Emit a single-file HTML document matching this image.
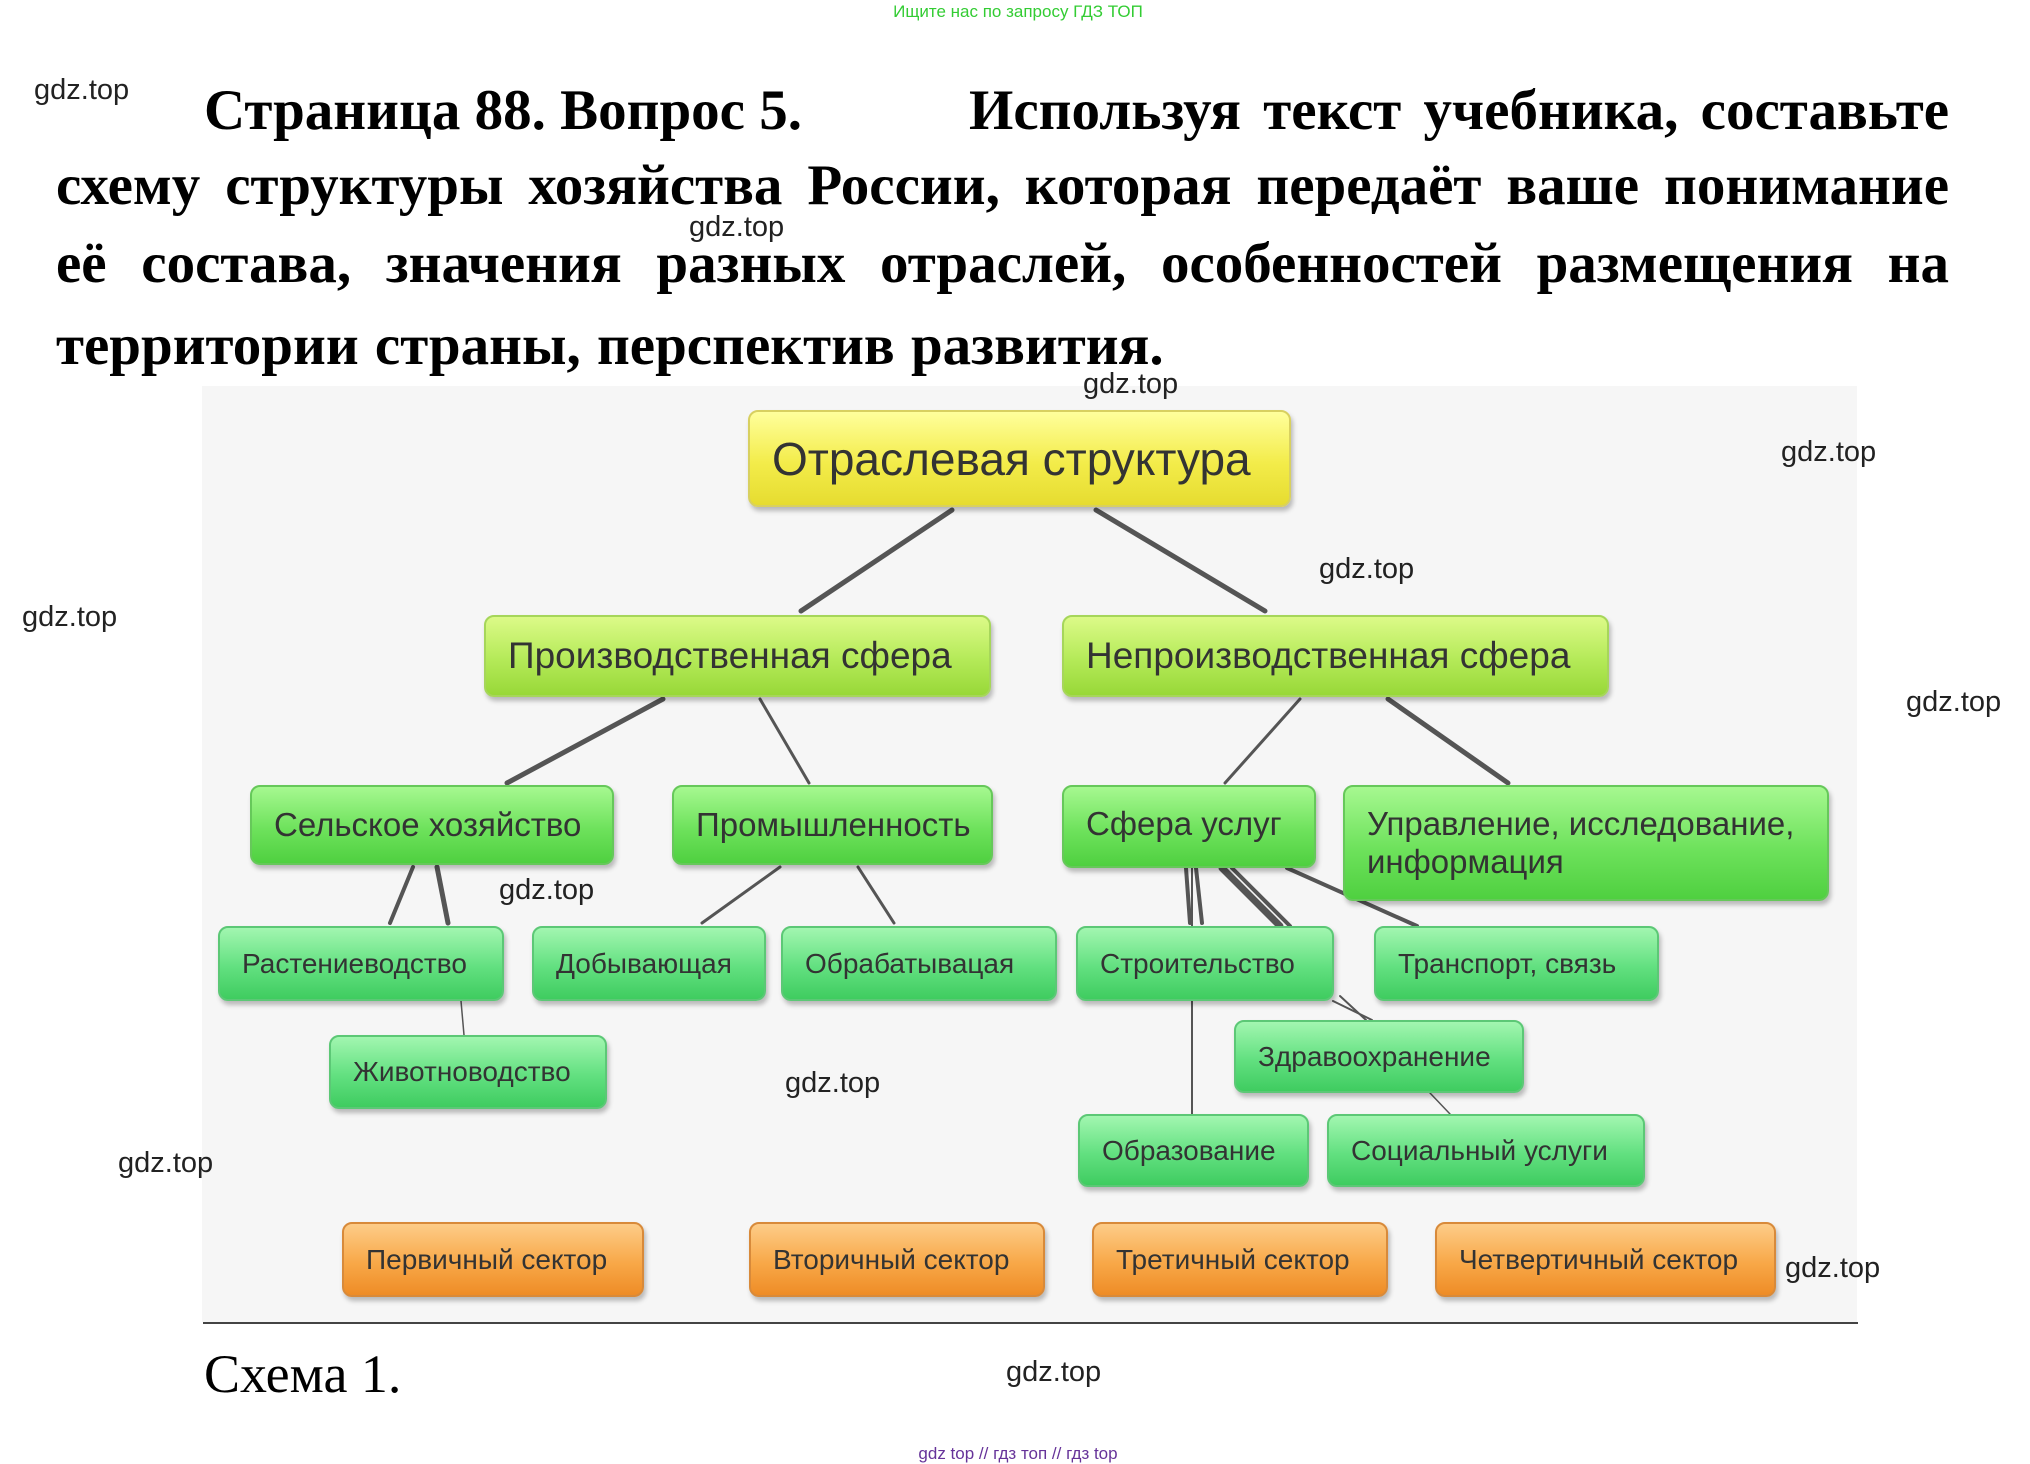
<!DOCTYPE html>
<html><head><meta charset="utf-8"><style>
body{margin:0;width:2030px;height:1463px;background:#fff;position:relative;overflow:hidden;font-family:"Liberation Sans",sans-serif}
.a{position:absolute;white-space:nowrap}
.w{position:absolute;font-size:29px;color:#222;line-height:1}
.t{position:absolute;left:56px;width:1893px;font-family:"Liberation Serif",serif;font-weight:bold;font-size:57px;text-align:justify;text-align-last:justify;line-height:1;white-space:nowrap}
.n{position:absolute;box-sizing:border-box;border-radius:10px;color:#333;padding-left:22px;display:flex;align-items:center;box-shadow:2px 4px 5px rgba(0,0,0,.25);white-space:nowrap}
.y{background:linear-gradient(#ffff9c,#f3ec4a 55%,#e6dc30);border:2px solid #d8d060}
.l{background:linear-gradient(#dcfa88,#b4ea58 55%,#98d838);border:2px solid #a6d65a;font-size:37px}
.g{background:linear-gradient(#a6f890,#6ee25c 55%,#4fd040);border:2px solid #66c85a;font-size:33px}
.m{background:linear-gradient(#a2f6b0,#62e080 55%,#3fcc60);border:2px solid #5cc876;font-size:28px}
.o{background:linear-gradient(#fdcc88,#f8a848 55%,#ee8c26);border:2px solid #d88a3a;font-size:28px}
</style></head><body>
<div class="a" style="left:0;width:2036px;text-align:center;top:2px;font-size:17px;color:#33cc33">Ищите нас по запросу ГДЗ ТОП</div>
<div class="a" style="left:204px;top:78px;font-family:'Liberation Serif',serif;font-weight:bold;font-size:57px;width:1745px;display:flex;justify-content:space-between"><span>Страница 88. Вопрос 5.</span><span style="margin-left:auto;word-spacing:8px">Используя текст учебника, составьте</span></div>
<div class="t" style="top:157px">схему структуры хозяйства России, которая передаёт ваше понимание</div>
<div class="t" style="top:235px">её состава, значения разных отраслей, особенностей размещения на</div>
<div class="a" style="left:56px;top:313px;font-family:'Liberation Serif',serif;font-weight:bold;font-size:57px;word-spacing:2px">территории страны, перспектив развития.</div>

<div class="a" style="left:202px;top:386px;width:1655px;height:936px;background:#f6f6f6"></div>
<div class="a" style="left:203px;top:1322px;width:1655px;height:2px;background:#444"></div>
<div class="a" style="left:204px;top:1343px;font-family:'Liberation Serif',serif;font-size:54px">Схема 1.</div>

<svg class="a" style="left:0;top:0" width="2030" height="1463">
<g stroke="#555" stroke-width="5" stroke-linecap="round">
<line x1="952" y1="510" x2="801" y2="611"/>
<line x1="1096" y1="510" x2="1265" y2="611"/>
<line x1="663" y1="699" x2="507" y2="783"/>
<line x1="760" y1="699" x2="809" y2="783" stroke-width="3"/>
<line x1="1300" y1="699" x2="1225" y2="783" stroke-width="3"/>
<line x1="1388" y1="699" x2="1508" y2="783"/>
<line x1="413" y1="867" x2="390" y2="923" stroke-width="4"/>
<line x1="437" y1="867" x2="448" y2="923"/>
<line x1="461" y1="1001" x2="464" y2="1035" stroke-width="1.5"/>
<line x1="780" y1="867" x2="702" y2="923" stroke-width="3"/>
<line x1="858" y1="867" x2="894" y2="923" stroke-width="3"/>
<line x1="1186" y1="868" x2="1190" y2="923" stroke-width="4"/>
<line x1="1196" y1="868" x2="1202" y2="923" stroke-width="4"/>
<line x1="1222" y1="868" x2="1280" y2="926" stroke-width="7"/>
<line x1="1232" y1="868" x2="1290" y2="926" stroke-width="4"/>
<line x1="1287" y1="868" x2="1417" y2="926" stroke-width="4"/>
<line x1="1192" y1="868" x2="1192" y2="1114" stroke-width="2"/>
<line x1="1333" y1="1001" x2="1372" y2="1020" stroke-width="2"/>
<line x1="1340" y1="996" x2="1366" y2="1020" stroke-width="2"/>
<line x1="1430" y1="1093" x2="1450" y2="1114" stroke-width="1.5"/>
</g></svg>

<div class="n y" style="left:748px;top:410px;width:543px;height:97px;font-size:46px">Отраслевая структура</div>
<div class="n l" style="left:484px;top:615px;width:507px;height:82px">Производственная сфера</div>
<div class="n l" style="left:1062px;top:615px;width:547px;height:82px">Непроизводственная сфера</div>
<div class="n g" style="left:250px;top:785px;width:364px;height:80px">Сельское хозяйство</div>
<div class="n g" style="left:672px;top:785px;width:321px;height:80px">Промышленность</div>
<div class="n g" style="left:1062px;top:785px;width:254px;height:83px;align-items:flex-start;padding-top:18px">Сфера услуг</div>
<div class="n g" style="left:1343px;top:785px;width:486px;height:116px;align-items:flex-start;padding-top:18px;line-height:38px;white-space:normal">Управление, исследование, информация</div>
<div class="n m" style="left:218px;top:926px;width:286px;height:75px">Растениеводство</div>
<div class="n m" style="left:532px;top:926px;width:234px;height:75px">Добывающая</div>
<div class="n m" style="left:781px;top:926px;width:276px;height:75px">Обрабатывацая</div>
<div class="n m" style="left:1076px;top:926px;width:258px;height:75px">Строительство</div>
<div class="n m" style="left:1374px;top:926px;width:285px;height:75px">Транспорт, связь</div>
<div class="n m" style="left:329px;top:1035px;width:278px;height:74px">Животноводство</div>
<div class="n m" style="left:1234px;top:1020px;width:290px;height:73px">Здравоохранение</div>
<div class="n m" style="left:1078px;top:1114px;width:231px;height:73px">Образование</div>
<div class="n m" style="left:1327px;top:1114px;width:318px;height:73px">Социальный услуги</div>
<div class="n o" style="left:342px;top:1222px;width:302px;height:75px">Первичный сектор</div>
<div class="n o" style="left:749px;top:1222px;width:296px;height:75px">Вторичный сектор</div>
<div class="n o" style="left:1092px;top:1222px;width:296px;height:75px">Третичный сектор</div>
<div class="n o" style="left:1435px;top:1222px;width:341px;height:75px">Четвертичный сектор</div>

<div class="w" style="left:34px;top:76px">gdz.top</div>
<div class="w" style="left:689px;top:213px">gdz.top</div>
<div class="w" style="left:1083px;top:370px">gdz.top</div>
<div class="w" style="left:1781px;top:438px">gdz.top</div>
<div class="w" style="left:1319px;top:555px">gdz.top</div>
<div class="w" style="left:22px;top:603px">gdz.top</div>
<div class="w" style="left:1906px;top:688px">gdz.top</div>
<div class="w" style="left:499px;top:876px">gdz.top</div>
<div class="w" style="left:785px;top:1069px">gdz.top</div>
<div class="w" style="left:118px;top:1149px">gdz.top</div>
<div class="w" style="left:1785px;top:1254px">gdz.top</div>
<div class="w" style="left:1006px;top:1358px">gdz.top</div>
<div class="a" style="left:0;width:2036px;text-align:center;top:1444px;font-size:17px;color:#663399">gdz top // гдз топ // гдз top</div>
</body></html>
